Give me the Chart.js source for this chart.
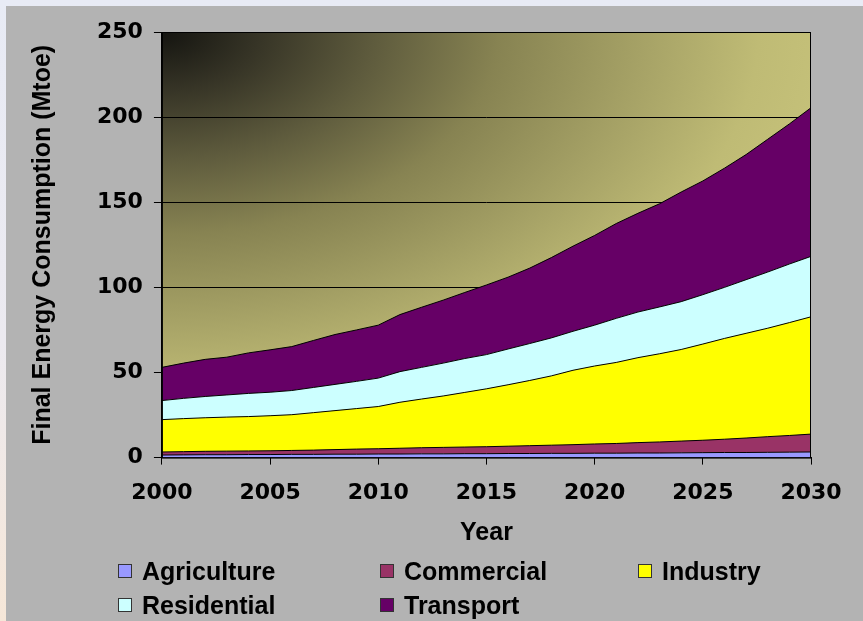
<!DOCTYPE html>
<html>
<head>
<meta charset="utf-8">
<script src="https://cdn.jsdelivr.net/npm/chart.js@4/dist/chart.umd.min.js"></script>
<style>
  html, body { margin: 0; padding: 0; }
  body {
    width: 863px; height: 621px; overflow: hidden; position: relative;
    background: linear-gradient(to bottom, #e8ebf5 0%, #eceaf0 55%, #f6e7d8 100%);
  }
  #panel { position: absolute; left: 6px; top: 6px; width: 857px; height: 615px; background: #b3b3b3; }
  #chart { position: absolute; left: 0; top: 0; }
  #legend {
    position: absolute; left: 112px; top: 548px;
    display: grid; grid-template-columns: 262px 258px auto; grid-auto-rows: 34px;
    font: bold 25px "Liberation Sans", Arial, sans-serif; color: #000;
  }
  .item { display: flex; align-items: center; white-space: nowrap; }
  .box { width: 12px; height: 12px; border: 1px solid #333; margin-right: 10px; }
</style>
</head>
<body>
<div id="panel">
  <canvas id="chart" width="857" height="615"></canvas>
  <div id="legend"></div>
</div>
<script>
// years 2000..2030, values in Mtoe (each series is its own layer, stacked)
const years = [2000, 2001, 2002, 2003, 2004, 2005, 2006, 2007, 2008, 2009, 2010,
  2011, 2012, 2013, 2014, 2015, 2016, 2017, 2018, 2019, 2020,
  2021, 2022, 2023, 2024, 2025, 2026, 2027, 2028, 2029, 2030];

const agriculture = [1.5, 1.6, 1.7, 1.7, 1.8, 1.8, 1.9, 1.9, 2.0, 2.0, 2.1,
  2.1, 2.2, 2.2, 2.3, 2.3, 2.4, 2.4, 2.5, 2.5, 2.6,
  2.6, 2.7, 2.7, 2.8, 2.9, 3.0, 3.0, 3.1, 3.2, 3.3];

const commercial = [1.8, 1.9, 2.0, 2.1, 2.1, 2.2, 2.3, 2.5, 2.7, 3.0, 3.1,
  3.4, 3.6, 3.8, 3.9, 4.1, 4.3, 4.6, 4.8, 5.1, 5.4,
  5.7, 6.1, 6.5, 6.9, 7.3, 7.8, 8.5, 9.2, 9.8, 10.5];

const industry = [19.0, 19.4, 19.7, 20.0, 20.2, 20.6, 21.0, 22.0, 22.9, 23.8, 24.8,
  27.0, 28.6, 30.2, 32.1, 34.0, 36.1, 38.3, 40.7, 43.7, 45.8,
  47.6, 49.9, 51.8, 53.8, 56.5, 59.2, 61.5, 63.7, 66.3, 68.9];

const residential = [11.2, 11.9, 12.5, 13.0, 13.6, 13.8, 14.2, 14.8, 15.4, 16.0, 16.7,
  18.0, 18.6, 19.3, 19.9, 20.1, 21.0, 21.7, 22.3, 22.9, 24.0,
  25.9, 26.8, 27.5, 28.1, 29.0, 30.0, 31.5, 33.0, 34.4, 35.5];

const transport = [19.5, 20.7, 21.8, 22.2, 23.8, 24.9, 25.8, 27.6, 29.3, 30.2, 31.1,
  33.5, 35.3, 37.0, 38.8, 40.9, 42.2, 44.3, 47.2, 50.0, 52.7,
  55.7, 58.0, 60.6, 64.4, 66.8, 70.0, 73.5, 78.0, 82.3, 87.3];

const seriesNames = ['Agriculture', 'Commercial', 'Industry', 'Residential', 'Transport'];
const seriesColors = ['#9999ff', '#993366', '#ffff00', '#ccffff', '#660066'];
const yTicks = [0, 50, 100, 150, 200, 250];
const xTicks = [2000, 2005, 2010, 2015, 2020, 2025, 2030];

const tickFont = { family: 'DejaVu Sans', weight: 'bold', size: 22 };
const titleFont = { family: 'Liberation Sans', weight: 'bold', size: 25 };

// dark-to-khaki backdrop of the plot area
const plotBackground = {
  id: 'plotBackground',
  beforeDraw(chart) {
    const { ctx, chartArea: a } = chart;
    const w = a.right - a.left, h = a.bottom - a.top;
    const sy = 0.6; // squash vertically so it lightens faster downwards
    const r = Math.hypot(w, h / sy);
    ctx.save();
    ctx.beginPath();
    ctx.rect(a.left, a.top, w, h);
    ctx.clip();
    ctx.translate(a.left, a.top);
    ctx.scale(1, sy);
    const g = ctx.createRadialGradient(0, 0, 0, 0, 0, r);
    g.addColorStop(0, '#141410');
    g.addColorStop(0.1, '#363426');
    g.addColorStop(0.22, '#5e5b3d');
    g.addColorStop(0.35, '#878352');
    g.addColorStop(0.5, '#a6a266');
    g.addColorStop(0.62, '#bfbb75');
    g.addColorStop(0.8, '#cdc97f');
    g.addColorStop(1, '#d4d084');
    ctx.fillStyle = g;
    ctx.fillRect(0, 0, w, h / sy);
    ctx.restore();
  },
  afterDatasetsDraw(chart) {
    const { ctx, chartArea: a } = chart;
    ctx.save();
    ctx.strokeStyle = '#000';
    ctx.lineWidth = 1;
    ctx.strokeRect(a.left + 0.5, a.top + 0.5, a.right - a.left - 1, a.bottom - a.top);
    ctx.restore();
  }
};

const layers = [agriculture, commercial, industry, residential, transport];

const ctx = document.getElementById('chart').getContext('2d');
const chart = new Chart(ctx, {
  type: 'line',
  data: {
    datasets: layers.map((vals, i) => ({
      label: seriesNames[i],
      data: vals.map((v, j) => ({ x: years[j], y: v })),
      backgroundColor: seriesColors[i],
      borderColor: '#000',
      borderWidth: 1,
      pointRadius: 0,
      tension: 0,
      fill: i === 0 ? 'origin' : '-1'
    }))
  },
  options: {
    responsive: false,
    animation: false,
    layout: { padding: { left: 0, right: 52, top: 26, bottom: 71 } },
    plugins: {
      legend: { display: false },
      tooltip: { enabled: false }
    },
    scales: {
      x: {
        type: 'linear',
        min: 2000,
        max: 2030,
        afterBuildTicks: (axis) => { axis.ticks = xTicks.map(v => ({ value: v })); },
        ticks: { color: '#000', font: tickFont, padding: 15, callback: v => String(v), maxRotation: 0 },
        grid: { drawOnChartArea: false, tickLength: 7, color: '#000' },
        border: { color: '#000' },
        title: {
          display: true, text: 'Year', color: '#000',
          font: { ...titleFont, lineHeight: 1.0 }, padding: { top: 0, bottom: 4 }
        }
      },
      y: {
        stacked: true,
        min: 0,
        max: 250,
        afterBuildTicks: (axis) => { axis.ticks = yTicks.map(v => ({ value: v })); },
        ticks: { color: '#000', font: tickFont, padding: 11 },
        grid: { color: '#000', tickLength: 8, lineWidth: 1 },
        border: { color: '#000' },
        title: {
          display: true, text: 'Final Energy Consumption (Mtoe)', color: '#000',
          font: titleFont, padding: { top: 22, bottom: 28 }
        }
      }
    }
  },
  plugins: [plotBackground]
});

// legend laid out in three columns like the original
const legendEl = document.getElementById('legend');
chart.data.datasets.forEach(ds => {
  const item = document.createElement('div');
  item.className = 'item';
  const box = document.createElement('span');
  box.className = 'box';
  box.style.background = ds.backgroundColor;
  item.appendChild(box);
  item.appendChild(document.createTextNode(ds.label));
  legendEl.appendChild(item);
});
</script>
</body>
</html>
